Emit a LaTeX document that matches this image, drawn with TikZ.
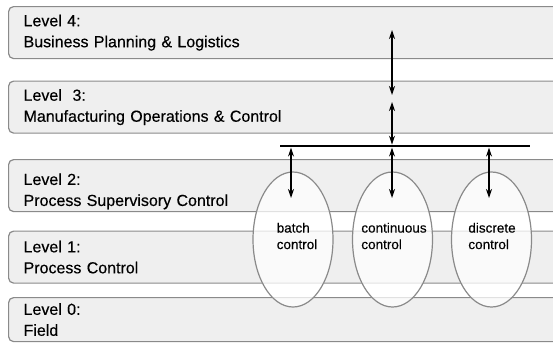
\documentclass[tikz,border=0pt]{standalone}
\usepackage{fontspec}
\setmainfont{Liberation Sans}[FakeBold=0.3]
\usetikzlibrary{arrows.meta,positioning,shapes.geometric}
\definecolor{levelfill}{HTML}{EFEFEF}
\definecolor{levelline}{HTML}{8A8A8A}
\tikzset{
  level/.style={draw=levelline,fill=levelfill,line width=1.2pt,rounded corners=5pt,
    anchor=north west,minimum height=52pt,text width=532pt,inner xsep=15pt,inner ysep=0pt,
    align=left,font=\fontsize{16}{21}\selectfont},
  ctrl/.style={ellipse,draw=levelline,fill=white,fill opacity=0.75,line width=1.2pt,
    minimum width=80pt,minimum height=135pt,inner sep=0pt},
  ctrltext/.style={align=left,inner sep=0pt,font=\fontsize{13.5}{16.5}\selectfont},
  link/.style={{Stealth[length=9pt,width=6pt]}-{Stealth[length=9pt,width=6pt]},line width=1.3pt}
}
\begin{document}
\begin{tikzpicture}[x=1pt,y=-1pt]
\useasboundingbox (0,0) rectangle (553,348);
% \draw[help lines] (0,0) grid (553,348);
\node (l4) [level] at (8,6) {Level 4:\\Business Planning \& Logistics};
\node (l3) [level] at (8,80.5) {Level\ \ 3:\\Manufacturing Operations \& Control};
\node (l2) [level,text height=23pt] at (8,159) {Level 2:\\Process Supervisory Control};
\node (l1) [level] at (8,230.5) {Level 1:\\Process Control};
\node (l0) [level,minimum height=44pt] at (8,297) {Level 0:\\Field};
%
\coordinate (busL) at (280,146);
\coordinate (busR) at (530,146);
\draw[line width=2.4pt] (busL) -- (busR);
%
\node (batch) [ctrl] at (293,239.5) {};
\node (cont) [ctrl] at (392.5,239.5) {};
\node (disc) [ctrl] at (491.5,239.5) {};
\node (batchtxt) [ctrltext] at (297,236) {batch\\control};
\node (conttxt) [ctrltext] at (394,236) {continuous\\control};
\node (disctxt) [ctrltext] at (492,236) {discrete\\control};
%
\coordinate (l4tip) at (392,30);
\coordinate (l3tip) at (392,95);
\coordinate (l3low) at (392,102);
\coordinate (busC) at (392,144.6);
\coordinate (batchtop) at (291,147.6);
\coordinate (conttop) at (392,147.6);
\coordinate (disctop) at (489,147.6);
\coordinate (batchin) at (291,198);
\coordinate (contin) at (392,198);
\coordinate (discin) at (489,198);
\path[link] (l4tip) edge (l3tip);
\path[link] (l3low) edge (busC);
\path[link] (batchtop) edge (batchin);
\path[link] (conttop) edge (contin);
\path[link] (disctop) edge (discin);
\end{tikzpicture}
\end{document}
